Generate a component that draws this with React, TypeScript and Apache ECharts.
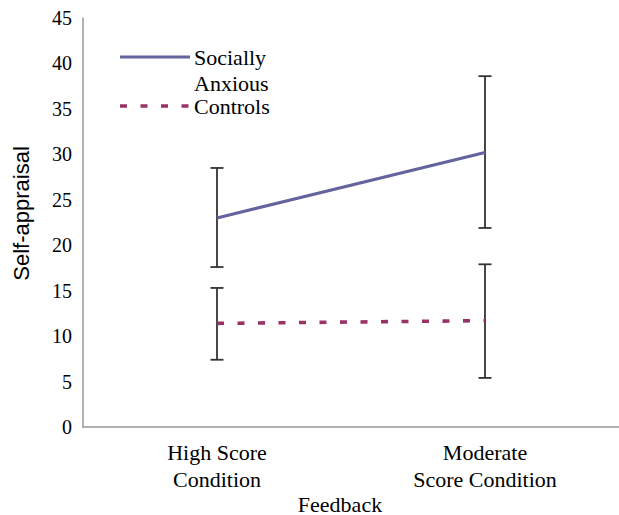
import React, { useEffect, useRef } from "react";
import * as echarts from "echarts";

const categories = ["High Score\nCondition", "Moderate\nScore Condition"];
const seriesNames = ["Socially Anxious", "Controls"];
const anxiousMean = [23.0, 30.2];
const anxiousLow = [17.6, 21.9];
const anxiousHigh = [28.5, 38.6];
const controlsMean = [11.4, 11.7];
const controlsLow = [7.4, 5.4];
const controlsHigh = [15.3, 17.9];
const yMin = 0;
const yMax = 45;
const yInterval = 5;

const SERIF = "Liberation Serif";
const SANS = "Liberation Sans";
const C_ANX = "#63639D";
const C_CTRL = "#993366";

function errorRenderItem(params: any, api: any) {
  const x = api.value(0);
  const lo = api.coord([x, api.value(1)]);
  const hi = api.coord([x, api.value(2)]);
  const hw = 6.5;
  const style = { stroke: "#333", lineWidth: 1.8 };
  return {
    type: "group",
    children: [
      { type: "line", shape: { x1: lo[0], y1: lo[1], x2: hi[0], y2: hi[1] }, style },
      { type: "line", shape: { x1: lo[0] - hw, y1: lo[1], x2: lo[0] + hw, y2: lo[1] }, style },
      { type: "line", shape: { x1: hi[0] - hw, y1: hi[1], x2: hi[0] + hw, y2: hi[1] }, style },
    ],
  };
}

export default function App() {
  const ref = useRef<HTMLDivElement>(null);
  useEffect(() => {
    if (!ref.current) return;
    document.body.style.margin = "0";
    const chart = echarts.init(ref.current, null, { renderer: "svg", width: 619, height: 515 });
    const errData = (lo: number[], hi: number[]) => categories.map((_, i) => [i, lo[i], hi[i]]);
    chart.setOption({
      animation: false,
      backgroundColor: "#fff",
      grid: { left: 83, right: 0, top: 18, bottom: 88, containLabel: false, outerBoundsMode: "none" },
      legend: { show: false },
      xAxis: {
        type: "category",
        data: categories,
        boundaryGap: true,
        axisLine: { lineStyle: { color: "#999", width: 1.5 } },
        axisTick: { show: false },
        axisLabel: { color: "#000", fontFamily: SERIF, fontSize: 22, lineHeight: 27, margin: 12 },
        name: "Feedback",
        nameLocation: "middle",
        nameGap: 66,
        nameMoveOverlap: false,
        nameTextStyle: { color: "#000", fontFamily: SERIF, fontSize: 22, padding: [0, 22, 0, 0] },
      },
      yAxis: {
        type: "value",
        min: yMin,
        max: yMax,
        interval: yInterval,
        splitLine: { show: false },
        axisLine: { show: true, lineStyle: { color: "#999", width: 1.5 } },
        axisTick: { show: false },
        axisLabel: { color: "#000", fontFamily: SERIF, fontSize: 20, margin: 11 },
        name: "Self-appraisal",
        nameLocation: "middle",
        nameGap: 51,
        nameMoveOverlap: false,
        nameTextStyle: { color: "#000", fontFamily: SANS, fontSize: 22, padding: [0, 0, 0, 18] },
      },
      series: [
        {
          name: seriesNames[0],
          type: "line",
          data: anxiousMean,
          symbol: "none",
          lineStyle: { color: C_ANX, width: 3.2 },
          z: 3,
        },
        {
          name: seriesNames[1],
          type: "line",
          data: controlsMean,
          symbol: "none",
          lineStyle: { color: C_CTRL, width: 3.6, type: [7, 13.5] },
          z: 3,
        },
        {
          type: "custom",
          renderItem: errorRenderItem,
          data: errData(anxiousLow, anxiousHigh),
          z: 2,
        },
        {
          type: "custom",
          renderItem: errorRenderItem,
          data: errData(controlsLow, controlsHigh),
          z: 2,
        },
      ],
      graphic: [
        { type: "line", shape: { x1: 120, y1: 57, x2: 190, y2: 57 }, style: { stroke: C_ANX, lineWidth: 3.2 } },
        {
          type: "text",
          left: 194,
          top: 44,
          style: { text: "Socially\nAnxious", fontFamily: SERIF, fontSize: 22, fill: "#000", lineHeight: 26 },
        },
        {
          type: "line",
          shape: { x1: 120, y1: 106, x2: 190, y2: 106 },
          style: { stroke: C_CTRL, lineWidth: 3.6, lineDash: [7, 13.5] },
        },
        {
          type: "text",
          left: 194,
          top: 93,
          style: { text: "Controls", fontFamily: SERIF, fontSize: 22, fill: "#000", lineHeight: 26 },
        },
      ],
    });
    return () => chart.dispose();
  }, []);
  return <div ref={ref} style={{ width: 619, height: 515 }} />;
}
